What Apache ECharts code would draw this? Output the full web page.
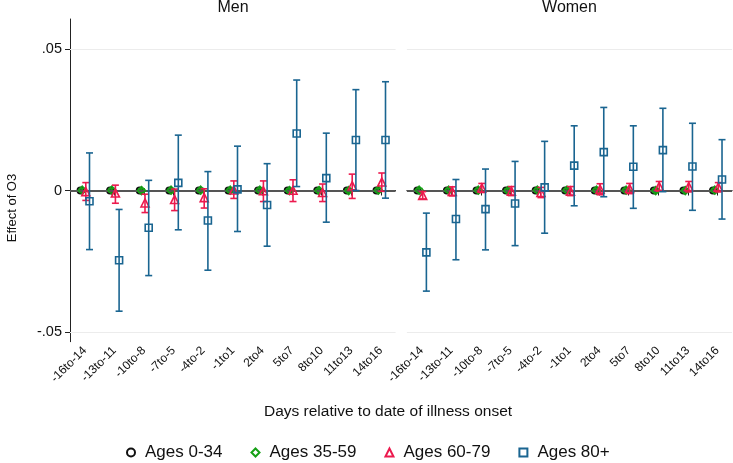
<!DOCTYPE html>
<html>
<head>
<meta charset="utf-8">
<script src="https://cdn.jsdelivr.net/npm/echarts@6/dist/echarts.min.js"></script>
<style>
html,body{margin:0;padding:0;background:#fff;}
#chart{width:733px;height:463px;}
</style>
</head>
<body>
<div id="chart"></div>
<script>
var categories = ['-16to-14','-13to-11','-10to-8','-7to-5','-4to-2','-1to1','2to4','5to7','8to10','11to13','14to16'];
var panelTitles = ['Men','Women'];
var seriesNames = ['Ages 0-34','Ages 35-59','Ages 60-79','Ages 80+'];
var yTickValues = [-0.05, 0, 0.05];
var yTickLabels = ['-.05','0','.05'];

// Men
var men034_est = [0,0,0,0,0,0,0,0,0,0,0];
var men034_lo  = [-0.0002,-0.0002,-0.0002,-0.0002,-0.0002,-0.0002,-0.0002,-0.0002,-0.0002,-0.0002,-0.0002];
var men034_hi  = [0.0002,0.0002,0.0002,0.0002,0.0002,0.0002,0.0002,0.0002,0.0002,0.0002,0.0002];
var men3559_est = [0.0001,0.0001,0.0000,0.0001,0.0001,0.0001,0.0001,0.0000,0.0000,0.0000,0.0001];
var men3559_lo  = [-0.0005,-0.0005,-0.0006,-0.0005,-0.0005,-0.0005,-0.0005,-0.0006,-0.0006,-0.0006,-0.0005];
var men3559_hi  = [0.0007,0.0007,0.0006,0.0007,0.0007,0.0007,0.0007,0.0006,0.0006,0.0006,0.0007];
var men6079_est = [-0.0004,-0.0009,-0.0044,-0.0032,-0.0025,0.0002,-0.0001,0.0001,-0.0007,0.0017,0.0030];
var men6079_lo  = [-0.0035,-0.0045,-0.0078,-0.0071,-0.0062,-0.0028,-0.0039,-0.0039,-0.0039,-0.0028,-0.0003];
var men6079_hi  = [0.0028,0.0019,-0.0013,0.0005,0.0006,0.0034,0.0034,0.0038,0.0023,0.0058,0.0062];
var men80_est = [-0.0038,-0.0247,-0.0132,0.0027,-0.0106,0.0004,-0.0051,0.0202,0.0044,0.0179,0.0179];
var men80_lo  = [-0.0209,-0.0427,-0.0301,-0.0139,-0.0282,-0.0145,-0.0197,0.0014,-0.0112,0.0000,-0.0027];
var men80_hi  = [0.0133,-0.0067,0.0036,0.0196,0.0067,0.0157,0.0095,0.0391,0.0203,0.0357,0.0385];

// Women
var wom034_est = [0,0,0,0,0,0,0,0,0,0,0];
var wom034_lo  = [-0.0002,-0.0002,-0.0002,-0.0002,-0.0002,-0.0002,-0.0002,-0.0002,-0.0002,-0.0002,-0.0002];
var wom034_hi  = [0.0002,0.0002,0.0002,0.0002,0.0002,0.0002,0.0002,0.0002,0.0002,0.0002,0.0002];
var wom3559_est = [0.0001,0.0001,0.0001,0.0000,0.0001,0.0001,0.0001,0.0001,0.0000,0.0000,0.0001];
var wom3559_lo  = [-0.0005,-0.0005,-0.0005,-0.0006,-0.0005,-0.0005,-0.0005,-0.0005,-0.0006,-0.0006,-0.0005];
var wom3559_hi  = [0.0007,0.0007,0.0007,0.0006,0.0007,0.0007,0.0007,0.0007,0.0006,0.0006,0.0007];
var wom6079_est = [-0.0017,-0.0003,0.0009,-0.0002,-0.0007,-0.0002,0.0005,0.0007,0.0015,0.0014,0.0012];
var wom6079_lo  = [-0.0030,-0.0019,-0.0007,-0.0018,-0.0025,-0.0018,-0.0015,-0.0011,-0.0002,-0.0005,-0.0005];
var wom6079_hi  = [-0.0004,0.0013,0.0025,0.0014,0.0011,0.0014,0.0024,0.0025,0.0032,0.0032,0.0028];
var wom80_est = [-0.0219,-0.0101,-0.0066,-0.0046,0.0011,0.0088,0.0136,0.0084,0.0143,0.0085,0.0039];
var wom80_lo  = [-0.0356,-0.0245,-0.0210,-0.0195,-0.0151,-0.0054,-0.0022,-0.0063,-0.0004,-0.0070,-0.0101];
var wom80_hi  = [-0.0080,0.0039,0.0076,0.0103,0.0174,0.0229,0.0294,0.0229,0.0291,0.0238,0.0180];

var panels = [
  [[men034_est,men034_lo,men034_hi],[men3559_est,men3559_lo,men3559_hi],[men6079_est,men6079_lo,men6079_hi],[men80_est,men80_lo,men80_hi]],
  [[wom034_est,wom034_lo,wom034_hi],[wom3559_est,wom3559_lo,wom3559_hi],[wom6079_est,wom6079_lo,wom6079_hi],[wom80_est,wom80_lo,wom80_hi]]
];

var colors = ['#111111','#16a016','#ec1a4e','#1a6591'];
var symbols = ['circle','diamond','triangle','rect'];
var symSizes = [6,8,8,7];
var pxOffsets = [-4.3,-2.5,1,4.7];
var font = 'Liberation Sans, Arial, sans-serif';

var gridTop = 19, gridH = 322.7;
var grids = [
  {left:70, top:gridTop, width:325.6, height:gridH},
  {left:406.9, top:gridTop, width:325.2, height:gridH}
];

var xAxes = [], yAxes = [], series = [];
for (var p = 0; p < 2; p++) {
  xAxes.push({
    type:'category', gridIndex:p, data:categories, boundaryGap:true,
    axisLine:{show:true, lineStyle:{color:'#222', width:1}},
    axisTick:{show:true, alignWithLabel:true, length:5, lineStyle:{color:'#222'}},
    axisLabel:{rotate:45, fontSize:12, color:'#111', fontFamily:font, margin:7, interval:0},
    splitLine:{show:false}
  });
  yAxes.push({
    type:'value', gridIndex:p, min:-0.0535, max:0.0607,
    axisLine:{show:p===0, onZero:false, lineStyle:{color:'#222', width:1}},
    axisTick:{show:p===0, length:5, lineStyle:{color:'#222'}, customValues:yTickValues},
    axisLabel:{show:p===0, fontSize:14.5, color:'#111', fontFamily:font, margin:8, customValues:yTickValues,
      formatter:function(v){ var i = yTickValues.indexOf(v); return i>=0 ? yTickLabels[i] : ''; }},
    splitLine:{show:false}
  });
  // reference lines
  series.push({
    type:'scatter', name:'ref'+p, xAxisIndex:p, yAxisIndex:p, data:[], z:1, silent:true,
    markLine:{
      silent:true, symbol:['none','none'], label:{show:false},
      data:[
        {yAxis:0.05, lineStyle:{color:'#ececec', width:1, type:'solid'}},
        {yAxis:-0.05, lineStyle:{color:'#ececec', width:1, type:'solid'}},
        {yAxis:0, lineStyle:{color:'#555555', width:2, type:'solid'}}
      ]
    }
  });
  for (var g = 0; g < 4; g++) {
    (function(p,g){
      var d = panels[p][g];
      var barData = [], ptData = [];
      for (var i = 0; i < categories.length; i++) {
        barData.push([i, d[1][i], d[2][i]]);
        ptData.push([i, d[0][i]]);
      }
      series.push({
        type:'custom', name:seriesNames[g]+' CI', xAxisIndex:p, yAxisIndex:p, z:2+g*2, silent:true,
        data:barData,
        renderItem:function(params, api){
          var x = api.value(0);
          var top = api.coord([x, api.value(2)]);
          var bot = api.coord([x, api.value(1)]);
          var cx = top[0] + pxOffsets[g];
          var hw = 3.5;
          var st = {stroke:colors[g], lineWidth:1.6, fill:null};
          return {type:'group', children:[
            {type:'line', shape:{x1:cx,y1:top[1],x2:cx,y2:bot[1]}, style:st},
            {type:'line', shape:{x1:cx-hw,y1:top[1],x2:cx+hw,y2:top[1]}, style:st},
            {type:'line', shape:{x1:cx-hw,y1:bot[1],x2:cx+hw,y2:bot[1]}, style:st}
          ]};
        }
      });
      series.push({
        type:'scatter', name:seriesNames[g], xAxisIndex:p, yAxisIndex:p, z:3+g*2,
        data:ptData, symbol:symbols[g], symbolSize:symSizes[g], symbolOffset:[pxOffsets[g],0],
        itemStyle:{color:'rgba(255,255,255,0)', borderColor:colors[g], borderWidth:g===0?2:1.6, opacity:1}
      });
    })(p,g);
  }
}

var option = {
  backgroundColor:'#ffffff',
  animation:false,
  textStyle:{fontFamily:font},
  grid:grids,
  xAxis:xAxes,
  yAxis:yAxes,
  legend:{
    data:seriesNames.map(function(n,i){ return {name:n, icon:symbols[i]}; }),
    left:121, top:439, itemWidth:8, itemHeight:8, itemGap:28,
    textStyle:{fontSize:17, color:'#111', fontFamily:font, padding:[0,0,0,5]},
    selectedMode:false
  },
  graphic:[
    {type:'text', x:233, y:8, style:{text:panelTitles[0], font:'16px '+font, fill:'#111', textAlign:'center', textVerticalAlign:'middle'}},
    {type:'text', x:569.5, y:8, style:{text:panelTitles[1], font:'16px '+font, fill:'#111', textAlign:'center', textVerticalAlign:'middle'}},
    {type:'text', x:12, y:208, rotation:Math.PI/2, style:{text:'Effect of O3', font:'13px '+font, fill:'#111', textAlign:'center', textVerticalAlign:'middle'}},
    {type:'text', x:388, y:412, style:{text:'Days relative to date of illness onset', font:'15.5px '+font, fill:'#111', textAlign:'center', textVerticalAlign:'middle'}}
  ],
  series:series
};
var chart = echarts.init(document.getElementById('chart'), null, {renderer:'canvas'});
chart.setOption(option);
</script>
</body>
</html>
